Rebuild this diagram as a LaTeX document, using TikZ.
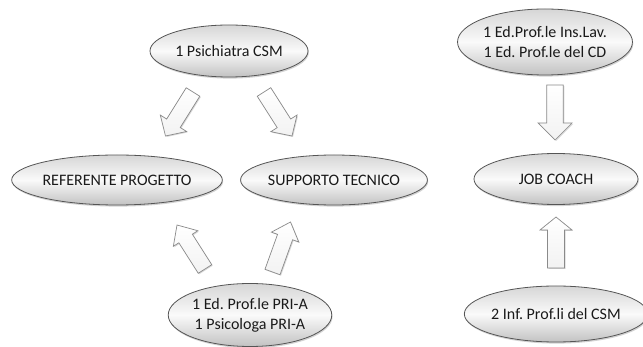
\documentclass[tikz,border=0pt]{standalone}
\usepackage{fontspec}
\setmainfont{Carlito}
\frenchspacing
\usetikzlibrary{shapes.geometric,calc,shadows}
\definecolor{txt}{HTML}{1A1A1A}
\definecolor{edge}{HTML}{555555}
\definecolor{aedge}{HTML}{8A8A8A}
\tikzset{
  oval/.style={ellipse, draw=edge, line width=0.8pt, inner sep=0pt,
    top color=gray!32, bottom color=gray!48, middle color=gray!4,
    drop shadow={opacity=0.35, shadow xshift=0.8pt, shadow yshift=-1.6pt},
    text=txt, font=\fontsize{16}{20}\selectfont, align=center},
  blockarrow/.style={draw=aedge, line width=0.7pt, top color=white, bottom color=gray!10, line join=miter,
    drop shadow={opacity=0.3, shadow xshift=1pt, shadow yshift=-1pt}}
}
% #1 tail, #2 tip, #3 shaft half width, #4 head half width, #5 head length
\newcommand{\blockarr}[5]{%
  \coordinate (hb) at ($(#2)!#5!(#1)$);
  \draw[blockarrow] ($(#1)!#3!90:(#2)$) -- ($(hb)!#3!90:(#2)$) -- ($(hb)!#4!90:(#2)$)
    -- (#2) -- ($(hb)!#4!-90:(#2)$) -- ($(hb)!#3!-90:(#2)$) -- ($(#1)!#3!-90:(#2)$) -- cycle;
}
\begin{document}
\begin{tikzpicture}[x=1pt,y=-1pt]
\useasboundingbox[fill=white] (0,0) rectangle (643,347);

\node[oval, minimum width=158pt, minimum height=52pt] (psi) at (229,51) {1 Psichiatra CSM};
\node[oval, minimum width=204pt, minimum height=50pt] (ref) at (117,180) {REFERENTE PROGETTO};
\node[oval, minimum width=182pt, minimum height=50pt] (sup) at (334,180) {SUPPORTO TECNICO};
\node[oval, minimum width=140pt, minimum height=63pt] (pri) at (250,315) {1 Ed. Prof.le PRI-A\\1 Psicologa PRI-A};
\node[oval, minimum width=160pt, minimum height=66pt] (ins) at (545,42) {1 Ed.Prof.le Ins.Lav.\\1 Ed. Prof.le del CD};
\node[oval, minimum width=164pt, minimum height=51pt] (job) at (556,179) {JOB COACH};
\node[oval, minimum width=170pt, minimum height=56pt] (csm) at (556,314) {2 Inf. Prof.li del CSM};

% arrow end points
\coordinate (a1t) at (193,92);   \coordinate (a1h) at (165.5,136);
\coordinate (a2t) at (264,92);   \coordinate (a2h) at (292,136);
\coordinate (a3t) at (205,269);  \coordinate (a3h) at (177,225);
\coordinate (a4t) at (272.5,272);\coordinate (a4h) at (290.5,222);
\coordinate (a5t) at (555,85);   \coordinate (a5h) at (555,140);
\coordinate (a6t) at (556,268);  \coordinate (a6h) at (556,217);

\blockarr{a1t}{a1h}{8pt}{15.5pt}{15pt}
\blockarr{a2t}{a2h}{8pt}{15.5pt}{15pt}
\blockarr{a3t}{a3h}{8pt}{14.5pt}{16pt}
\blockarr{a4t}{a4h}{8pt}{14.5pt}{16pt}
\blockarr{a5t}{a5h}{8.3pt}{17pt}{17pt}
\blockarr{a6t}{a6h}{8.5pt}{16pt}{13pt}
\end{tikzpicture}
\end{document}
